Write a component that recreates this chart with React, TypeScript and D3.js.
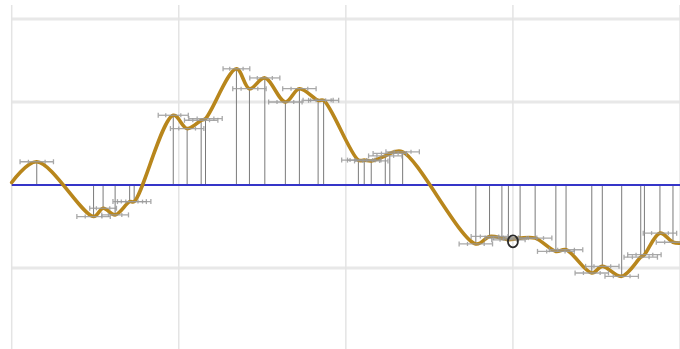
import React from "react";
import * as d3 from "d3";

// Sample positions along the x axis
const xValues = [
  0.0, 0.15, 0.49, 0.547, 0.619, 0.706, 0.733, 0.967, 1.05, 1.134, 1.16,
  1.345, 1.423, 1.515, 1.638, 1.722, 1.834, 1.867, 2.075, 2.11, 2.152,
  2.236, 2.263, 2.34, 2.778, 2.86, 2.934, 2.973, 3.043, 3.133, 3.257,
  3.318, 3.472, 3.535, 3.651, 3.765, 3.787, 3.88, 3.958, 4.0,
];

// Measured values at each sample
const yValues = [
  0.03, 0.28, -0.38, -0.28, -0.36, -0.2, -0.2, 0.84, 0.68, 0.78, 0.8,
  1.4, 1.16, 1.29, 1.0, 1.16, 1.02, 1.02, 0.3, 0.3, 0.29,
  0.35, 0.38, 0.4, -0.71, -0.62, -0.64, -0.66, -0.64, -0.64, -0.8,
  -0.78, -1.06, -0.98, -1.1, -0.87, -0.84, -0.58, -0.69, -0.7,
];

// Horizontal uncertainty (half-width) of each sample; 0 = no bar / stem
const xErrors = [
  0.0, 0.1, 0.1, 0.08, 0.08, 0.1, 0.1, 0.09, 0.1, 0.1, 0.1,
  0.08, 0.1, 0.09, 0.1, 0.1, 0.09, 0.09, 0.1, 0.1, 0.1,
  0.1, 0.1, 0.1, 0.1, 0.11, 0.1, 0.1, 0.1, 0.1, 0.11,
  0.1, 0.1, 0.1, 0.1, 0.1, 0.1, 0.1, 0.1, 0.0,
];

const xTicks = [0, 1, 2, 3, 4];
const yTicks = [2, 1, 0, -1];

// Highlighted cursor position
const cursorX = [3.0];
const cursorY = [-0.68];

const W = 680;
const H = 349;

export default function App() {
  const x = d3.scaleLinear().domain([0, 4]).range([11.7, 680]);
  const y = d3.scaleLinear().domain([0, 1]).range([185, 102]);
  const top = 5;
  const bottom = 349;

  const pts = xValues.map((v, i) => ({ x: v, y: yValues[i], e: xErrors[i] }));
  const marked = pts.filter((p) => p.e > 0);

  const line = d3
    .line<{ x: number; y: number }>()
    .x((d) => x(d.x))
    .y((d) => y(d.y))
    .curve(d3.curveCatmullRom.alpha(0.5));

  return (
    <svg
      width={W}
      height={H}
      style={{ position: "absolute", left: 0, top: 0, display: "block", background: "#fff" }}
    >
      {/* grid */}
      {yTicks
        .filter((t) => t !== 0)
        .map((t) => (
          <line
            key={"gy" + t}
            x1={x(0)}
            x2={x(4)}
            y1={y(t)}
            y2={y(t)}
            stroke="#e8e8e8"
            strokeWidth={3}
          />
        ))}
      {xTicks.map((t) => (
        <line
          key={"gx" + t}
          x1={x(t)}
          x2={x(t)}
          y1={top}
          y2={bottom}
          stroke="#e4e4e4"
          strokeWidth={1.5}
        />
      ))}

      {/* stems from zero line */}
      {marked.map((p, i) => (
        <line
          key={"s" + i}
          x1={x(p.x)}
          x2={x(p.x)}
          y1={y(0)}
          y2={y(p.y)}
          stroke="#7a7a7a"
          strokeWidth={1}
        />
      ))}

      {/* zero line */}
      <line x1={x(0)} x2={x(4)} y1={y(0)} y2={y(0)} stroke="#3535c8" strokeWidth={2} />

      {/* smoothed series */}
      <path
        d={line(pts) ?? ""}
        fill="none"
        stroke="#b8861c"
        strokeWidth={3.6}
        strokeLinejoin="round"
        strokeLinecap="round"
      />

      {/* horizontal error bars */}
      {marked.map((p, i) => {
        const x0 = x(p.x - p.e);
        const x1 = x(p.x + p.e);
        const xc = x(p.x);
        const cy = y(p.y);
        return (
          <g key={"e" + i} stroke="#9a9a9a" strokeWidth={1.3} opacity={0.85}>
            <line x1={x0} x2={x1} y1={cy} y2={cy} />
            <line x1={x0} x2={x0} y1={cy - 2.5} y2={cy + 2.5} />
            <line x1={x1} x2={x1} y1={cy - 2.5} y2={cy + 2.5} />
            <line x1={(x0 + xc) / 2} x2={(x0 + xc) / 2} y1={cy - 2} y2={cy + 2} />
            <line x1={(x1 + xc) / 2} x2={(x1 + xc) / 2} y1={cy - 2} y2={cy + 2} />
          </g>
        );
      })}

      {/* cursor marker */}
      {cursorX.map((cx, i) => (
        <ellipse
          key={"c" + i}
          cx={x(cx)}
          cy={y(cursorY[i])}
          rx={5}
          ry={6}
          fill="none"
          stroke="#2a2a2a"
          strokeWidth={1.8}
        />
      ))}
    </svg>
  );
}
